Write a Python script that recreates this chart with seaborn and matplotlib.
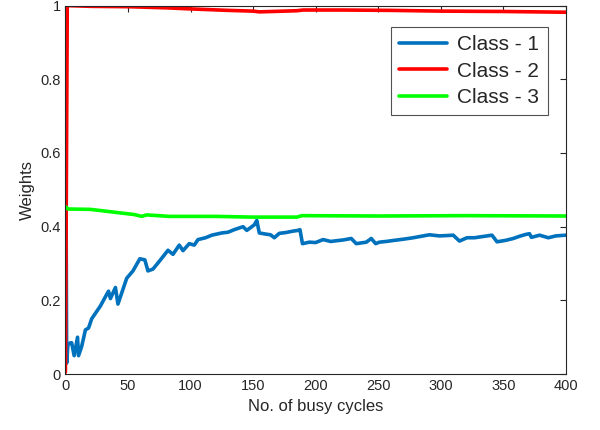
import numpy as np
import pandas as pd
import matplotlib
matplotlib.use("Agg")
import matplotlib.pyplot as plt
import seaborn as sns

# values
class1_x = [0, 1, 2, 4, 5, 7, 9.7, 10.5, 13, 16, 18.5, 21, 24, 28, 32, 34.5, 36, 40, 42, 45,
            49, 54, 59.5, 63.5, 66, 70, 76, 82, 86, 91, 94, 99, 103, 106, 112, 117, 125, 130,
            135, 142, 145, 151, 153, 155, 160, 164, 167, 171, 176, 182, 186, 187.5, 189.5, 195,
            200, 206, 212, 217, 222, 228.5, 232.5, 240.5, 244.5, 248, 251, 256.5, 263, 270,
            278, 286, 291, 299, 305, 310, 315, 321, 327, 333, 341, 345, 352, 358, 363, 368,
            371, 372.5, 379, 386, 392, 400]
class1_y = [0.97, 0.03, 0.08, 0.085, 0.085, 0.05, 0.10, 0.05, 0.075, 0.12, 0.125, 0.15, 0.165,
            0.185, 0.21, 0.225, 0.205, 0.235, 0.19, 0.22, 0.26, 0.28, 0.313, 0.31, 0.28, 0.285,
            0.31, 0.336, 0.325, 0.35, 0.335, 0.354, 0.35, 0.365, 0.37, 0.377, 0.383, 0.385,
            0.392, 0.40, 0.39, 0.405, 0.417, 0.383, 0.38, 0.378, 0.37, 0.382, 0.384, 0.388,
            0.39, 0.392, 0.354, 0.358, 0.357, 0.365, 0.36, 0.362, 0.364, 0.368, 0.354, 0.358,
            0.368, 0.354, 0.358, 0.36, 0.363, 0.366, 0.37, 0.375, 0.378, 0.375, 0.376, 0.377,
            0.361, 0.37, 0.37, 0.373, 0.377, 0.359, 0.363, 0.368, 0.374, 0.379, 0.381, 0.371,
            0.377, 0.37, 0.375, 0.377]

class2_x = [0, 1.5, 20, 50, 80, 100, 130, 150, 155, 185, 190, 220, 260, 300, 350, 400]
class2_y = [0.005, 1.0, 0.998, 0.997, 0.994, 0.991, 0.987, 0.985, 0.983, 0.986, 0.988,
            0.988, 0.987, 0.985, 0.984, 0.982]

class3_x = [0, 2, 20, 40, 55, 61, 65, 83, 120, 150, 185, 189, 250, 320, 400]
class3_y = [0.455, 0.448, 0.447, 0.439, 0.433, 0.428, 0.432, 0.428, 0.428, 0.426, 0.426,
            0.43, 0.429, 0.43, 0.429]

labels = ['Class - 1', 'Class - 2', 'Class - 3']
colors = {'Class - 1': '#0072BD', 'Class - 2': '#FF0000', 'Class - 3': '#00FF00'}

df = pd.concat([
    pd.DataFrame({'cycle': class1_x, 'weight': class1_y, 'cls': labels[0]}),
    pd.DataFrame({'cycle': class2_x, 'weight': class2_y, 'cls': labels[1]}),
    pd.DataFrame({'cycle': class3_x, 'weight': class3_y, 'cls': labels[2]}),
], ignore_index=True)

sns.set_style("white")
plt.rcParams['font.family'] = ['Liberation Sans', 'DejaVu Sans']

fig = plt.figure(figsize=(6, 4.3), dpi=100)
ax = fig.add_axes([0.109, 0.130, 0.834, 0.857])

sns.lineplot(data=df, x='cycle', y='weight', hue='cls', hue_order=labels,
             palette=colors, linewidth=2.6, sort=False, estimator=None, ax=ax)

ax.set_xlim(0, 400)
ax.set_ylim(0, 1)
ax.set_xticks(np.arange(0, 401, 50))
ax.set_yticks(np.arange(0, 1.01, 0.2))
ax.set_yticklabels(['0', '0.2', '0.4', '0.6', '0.8', '1'])
ax.set_xlabel('No. of busy cycles', fontsize=12, color='#262626')
ax.set_ylabel('Weights', fontsize=12, color='#262626')
ax.tick_params(direction='in', top=True, right=True, length=4, width=0.8,
               labelsize=10.5, colors='#262626')
for s in ax.spines.values():
    s.set_color('#262626')
    s.set_linewidth(0.8)
    s.set_visible(True)

leg = ax.legend(loc='upper right', bbox_to_anchor=(0.964, 0.942), borderaxespad=0,
                fontsize=15, frameon=True, fancybox=False, edgecolor='#262626',
                handlelength=2.3, borderpad=0.4, labelspacing=0.35, handletextpad=0.5)
leg.get_frame().set_linewidth(0.8)
for line in leg.get_lines():
    line.set_linewidth(2.6)

fig.savefig('out.png', dpi=100)
